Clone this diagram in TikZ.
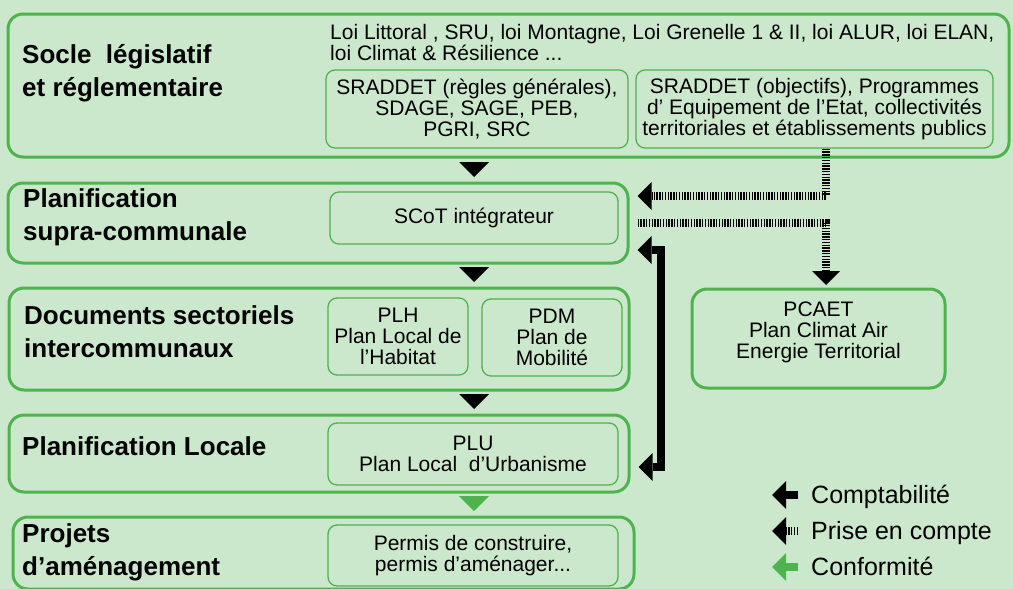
\documentclass[tikz,border=0pt]{standalone}
\usepackage{fontspec}
\setmainfont{Liberation Sans}
\usetikzlibrary{arrows.meta}

\definecolor{fondvert}{RGB}{204,232,204}
\definecolor{traitvert}{RGB}{78,178,78}

\begin{document}
\begin{tikzpicture}[x=1pt, y=-1pt,
	>={Triangle[width=28pt, length=14pt, line width=0pt]},
	niveau/.style={draw=traitvert, line width=3pt, rounded corners=15pt, inner sep=0pt},
	document/.style={draw=traitvert, line width=1.3pt, rounded corners=9pt, inner sep=0pt, align=center, font=\fontsize{21}{21}\selectfont},
	titre/.style={anchor=base west, align=left, inner sep=0pt, font=\fontsize{26}{32.5}\selectfont\bfseries},
	legende/.style={anchor=base west, inner sep=0pt, font=\fontsize{25}{30}\selectfont},
	fleche/.style={line width=0.1pt, -{Triangle[width=30pt, length=15pt, line width=0pt]}},
	comptabilite/.style={line width=8.5pt, ->},
	prise/.style={line width=7.5pt, dash pattern=on 1.4pt off 1.4pt, ->},
	conformite/.style={line width=8.5pt, draw=traitvert, ->}]
	
	\fill [fondvert] (0,0) rectangle (1013,589);
	\useasboundingbox (0,0) rectangle (1013,589);
	
	\node [niveau, minimum width=1001pt, minimum height=143pt] (socle) at (508.5,85.5) {};
	\node [niveau, minimum width=620pt, minimum height=80pt] (supra) at (318,223) {};
	\node [niveau, minimum width=620pt, minimum height=102pt] (secto) at (319,339) {};
	\node [niveau, minimum width=620pt, minimum height=77pt] (locale) at (319,453.5) {};
	\node [niveau, minimum width=621pt, minimum height=72pt] (projets) at (323.5,553) {};
	\node [niveau, minimum width=253pt, minimum height=99pt] (pcaet) at (818.5,338.5) {};
	
	\foreach \n/\x/\y/\t in {socle/22/96/{Socle~~législatif\\et réglementaire},
		supra/23/240/{Planification\\supra-communale},
		secto/24/357/{Documents sectoriels\\intercommunaux},
		locale/22/455/{Planification Locale},
		projets/22/575/{Projets\\d’aménagement}}
	\node [titre] (titre-\n) at (\x,\y) {\t};
	
	\node [anchor=base west, align=left, inner sep=0pt, font=\fontsize{21}{21}\selectfont] (lois) at (330,60)
		{Loi Littoral , SRU, loi Montagne, Loi Grenelle 1 \& II, loi ALUR, loi ELAN,\\loi Climat \& Résilience ...};
	
	\node [document, minimum width=302pt, minimum height=78pt] (sraddet-regles) at (477,109)
		{SRADDET (règles générales),\\SDAGE, SAGE, PEB,\\PGRI, SRC};
	\node [document, minimum width=357pt, minimum height=78pt] (sraddet-objectifs) at (814.5,109)
		{SRADDET (objectifs), Programmes\\d’ Equipement de l’Etat, collectivités\\territoriales et établissements publics};
	\node [document, minimum width=288pt, minimum height=52pt] (scot) at (474,218) {SCoT intégrateur};
	\node [document, minimum width=140pt, minimum height=77pt] (plh) at (398,336.5) {PLH\\Plan Local de\\l’Habitat};
	\node [document, minimum width=140pt, minimum height=77pt] (pdm) at (552,337.5) {PDM\\Plan de\\Mobilité};
	\node [document, minimum width=290pt, minimum height=62pt] (plu) at (473,454) {PLU\\Plan Local~~d’Urbanisme};
	\node [document, minimum width=290pt, minimum height=61pt] (permis) at (473,555.5) {Permis de construire,\\permis d’aménager...};
	\node [document, draw=none] (pcaet-texte) at ([yshift=6pt]pcaet.center) {PCAET\\Plan Climat Air\\Energie Territorial};
	
	\foreach \a/\b/\c in {socle/supra/black, supra/secto/black, secto/locale/black, locale/projets/traitvert}
	\draw [fleche, \c, shorten <=5pt, shorten >=4.5pt] (\a.south -| scot.south) -- (\b.north -| scot.south);
	
	\draw [comptabilite, <->] ([xshift=8pt,yshift=-27pt]supra.east) -- ++(23.5,0) |- ([xshift=8pt,yshift=-13.5pt]locale.east);
	\draw [prise] ([xshift=11.5pt]sraddet-objectifs.south) |- ([xshift=8pt,yshift=27pt]supra.east);
	\draw [prise] ([xshift=8pt]supra.east) -| ([xshift=7.5pt,yshift=2.5pt]pcaet.north);
	
	\foreach \s/\y/\t [count=\i] in {comptabilite/495/Comptabilité, prise/531/Prise en compte, conformite/567/Conformité} {
		\node [legende] (legende-\i) at (811,\y+8.5) {\t};
		\coordinate (pointe-\i) at (772,\y);
		\draw [\s, shorten <=13pt] (pointe-\i -| legende-\i.west) -- (pointe-\i);
	}
\end{tikzpicture}
\end{document}
